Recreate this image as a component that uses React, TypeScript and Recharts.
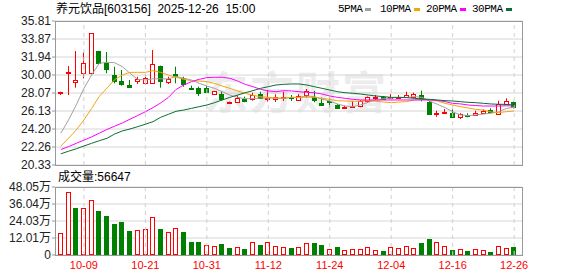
import React from "react";
import { ComposedChart, Bar, Line, XAxis, YAxis, CartesianGrid, ReferenceLine } from "recharts";

const FONT = "'Liberation Sans', Arial, 'Noto Sans CJK SC', sans-serif";
const RED = "#ff0000";
const GREEN = "#008000";

const DATES = [
  "09-26", "09-29", "09-30", "10-09", "10-10", "10-13", "10-14", "10-15", "10-16", "10-17",
  "10-20", "10-21", "10-22", "10-23", "10-24", "10-27", "10-28", "10-29", "10-30", "10-31",
  "11-03", "11-04", "11-05", "11-06", "11-07", "11-10", "11-11", "11-12", "11-13", "11-14",
  "11-17", "11-18", "11-19", "11-20", "11-21", "11-24", "11-25", "11-26", "11-27", "11-28",
  "12-01", "12-02", "12-03", "12-04", "12-05", "12-08", "12-09", "12-10", "12-11", "12-12",
  "12-15", "12-16", "12-17", "12-18", "12-19", "12-22", "12-23", "12-24", "12-25", "12-26",
];

const OPEN = [
  28.2, 30.2, 29.3, 30.19, 30.2, 32.58, 31.33, 30.0, 29.36, 28.93,
  29.36, 29.11, 29.11, 30.97, 29.25, 30.1, 29.65, 28.66, 28.57, 28.57,
  27.96, 28.0, 27.0, 27.1, 27.46, 27.42, 27.96, 27.5, 27.42, 27.5,
  27.6, 27.32, 27.85, 27.68, 27.03, 27.23, 26.82, 26.52, 26.62, 26.67,
  27.18, 27.58, 27.68, 27.5, 27.55, 27.6, 27.68, 27.85, 27.14, 25.84,
  25.89, 25.96, 25.52, 25.67, 25.71, 25.89, 26.2, 25.81, 26.89, 27.1,
];
const HIGH = [
  28.2, 30.97, 32.58, 32.44, 34.49, 32.6, 32.48, 30.9, 30.54, 29.47,
  29.82, 30.0, 32.69, 31.01, 29.82, 30.9, 29.82, 28.86, 28.75, 28.82,
  28.3, 28.29, 27.15, 27.82, 27.68, 28.1, 28.21, 28.39, 27.93, 28.21,
  27.85, 27.96, 28.5, 28.29, 27.57, 27.57, 26.9, 26.7, 27.21, 27.3,
  27.7, 27.85, 27.75, 27.96, 27.85, 28.21, 28.1, 28.32, 27.25, 26.17,
  26.35, 26.31, 25.9, 25.89, 26.17, 26.3, 26.42, 27.24, 27.5, 27.15,
];
const LOW = [
  27.85, 27.85, 28.64, 29.65, 30.1, 31.08, 30.19, 29.1, 28.86, 28.64,
  29.04, 28.93, 29.05, 28.64, 29.04, 29.11, 28.75, 28.39, 27.75, 28.07,
  27.9, 27.24, 26.9, 27.03, 27.07, 27.24, 27.42, 27.14, 27.1, 27.21,
  27.21, 27.21, 27.6, 27.07, 26.67, 26.53, 26.35, 26.4, 26.6, 26.53,
  27.0, 27.32, 27.35, 27.45, 27.45, 27.55, 27.6, 27.18, 25.81, 25.52,
  25.85, 25.45, 25.27, 25.45, 25.65, 25.85, 26.0, 25.71, 26.8, 26.42,
];
const CLOSE = [
  28.2, 30.35, 29.45, 31.26, 34.49, 31.33, 30.68, 29.36, 29.07, 28.75,
  29.61, 29.65, 31.19, 29.39, 29.54, 29.9, 29.0, 28.6, 28.1, 28.21,
  28.25, 27.39, 27.1, 27.57, 27.21, 27.89, 27.5, 27.58, 27.6, 27.62,
  27.5, 27.75, 28.29, 27.32, 26.75, 27.2, 26.46, 26.57, 26.67, 27.18,
  27.6, 27.63, 27.42, 27.64, 27.68, 27.85, 27.96, 27.5, 25.86, 25.9,
  26.03, 25.52, 25.78, 25.55, 25.96, 26.14, 26.05, 26.86, 27.21, 26.6,
];

// volume in 万手
const VOLUME = [
  15.3, 44.7, 33.0, 33.0, 38.6, 31.1, 27.6, 21.9, 23.1, 17.0,
  17.4, 18.2, 26.6, 18.4, 16.0, 18.9, 16.3, 9.2, 9.2, 7.1,
  6.4, 7.8, 4.9, 5.6, 4.2, 9.0, 7.1, 9.0, 6.6, 5.9,
  4.9, 5.6, 8.2, 8.7, 7.1, 4.2, 5.6, 3.3, 4.2, 4.2,
  5.4, 3.3, 2.8, 5.4, 4.9, 6.4, 4.9, 8.7, 11.3, 9.0,
  6.4, 3.5, 4.2, 2.8, 4.0, 3.3, 2.1, 6.4, 4.9, 5.66,
];

const MA5 = [
  23.74, 25.17, 26.78, 28.57, 30.0, 31.26, 31.37, 31.33, 30.9, 30.19,
  29.54, 29.47, 29.6, 29.6, 29.58, 29.85, 29.65, 29.47, 29.11, 28.82,
  28.57, 28.21, 27.85, 27.6, 27.46, 27.46, 27.53, 27.53, 27.52, 27.5,
  27.6, 27.6, 27.75, 27.68, 27.42, 27.21, 26.89, 26.67, 26.6, 26.78,
  27.07, 27.32, 27.46, 27.53, 27.6, 27.6, 27.68, 27.6, 27.21, 26.86,
  26.5, 26.06, 25.71, 25.64, 25.71, 25.81, 25.89, 26.06, 26.42, 26.53,
];
const MA10 = [
  22.37, 23.2, 24.09, 25.17, 26.4, 27.7, 28.6, 29.5, 30.0, 30.29,
  30.29, 30.29, 30.47, 30.29, 30.0, 29.76, 29.54, 29.39, 29.36, 29.29,
  29.11, 28.82, 28.57, 28.29, 28.04, 27.82, 27.68, 27.6, 27.53, 27.53,
  27.6, 27.6, 27.62, 27.6, 27.5, 27.39, 27.24, 27.21, 27.18, 27.18,
  27.24, 27.18, 27.1, 27.03, 27.1, 27.14, 27.32, 27.39, 27.32, 27.21,
  26.96, 26.78, 26.6, 26.46, 26.31, 26.24, 26.03, 25.96, 26.06, 26.14,
];
const MA20 = [
  22.0, 22.3, 22.66, 23.0, 23.35, 23.75, 24.15, 24.5, 24.85, 25.25,
  25.65, 26.05, 26.5, 27.0, 27.6, 28.45, 28.93, 29.29, 29.54, 29.72,
  29.76, 29.76, 29.65, 29.36, 29.0, 28.75, 28.46, 28.29, 28.21, 28.32,
  28.29, 28.21, 28.14, 28.1, 27.96, 27.75, 27.6, 27.5, 27.39, 27.32,
  27.32, 27.32, 27.32, 27.32, 27.32, 27.32, 27.32, 27.32, 27.32, 27.28,
  27.14, 26.96, 26.9, 26.78, 26.72, 26.67, 26.67, 26.67, 26.7, 26.67,
];
const MA30 = [
  21.53, 21.81, 22.07, 22.37, 22.66, 22.94, 23.2, 23.66, 23.99, 24.2,
  24.45, 24.71, 24.99, 25.46, 25.78, 26.1, 26.24, 26.42, 26.6, 26.78,
  27.03, 27.32, 27.6, 27.85, 28.1, 28.32, 28.57, 28.75, 28.93, 29.0,
  29.04, 29.04, 28.93, 28.75, 28.57, 28.39, 28.21, 28.1, 28.04, 27.96,
  27.85, 27.75, 27.68, 27.6, 27.6, 27.57, 27.5, 27.42, 27.39, 27.32,
  27.25, 27.21, 27.14, 27.07, 27.03, 26.96, 26.89, 26.86, 26.84, 26.78,
];

const PRICE_TICKS = [20.33, 22.26, 24.2, 26.13, 28.07, 30.0, 31.94, 33.87, 35.81];
const VOL_TICKS = [0, 12.01, 24.03, 36.04, 48.05];
const DATE_TICKS = ["10-09", "10-21", "10-31", "11-12", "11-24", "12-04", "12-16", "12-26"];

const MA_SERIES = [
  { key: "ma5", name: "5PMA", color: "#a0a0a0", left: 338 },
  { key: "ma10", name: "10PMA", color: "#f2a50c", left: 380 },
  { key: "ma20", name: "20PMA", color: "#ff00ff", left: 426 },
  { key: "ma30", name: "30PMA", color: "#0b6e35", left: 472 },
];

const data = DATES.map((date, i) => ({
  date,
  open: OPEN[i],
  high: HIGH[i],
  low: LOW[i],
  close: CLOSE[i],
  range: [LOW[i], HIGH[i]],
  vol: VOLUME[i],
  volUp: i === 0 ? CLOSE[i] >= OPEN[i] : CLOSE[i] >= CLOSE[i - 1],
  ma5: MA5[i],
  ma10: MA10[i],
  ma20: MA20[i],
  ma30: MA30[i],
}));

function Candle(props: any) {
  const { x, y, width, height, payload } = props;
  if (x == null || y == null) return null;
  const { open, close, high, low } = payload;
  const top = Math.min(y, y + height);
  const h = Math.abs(height);
  const per = high > low ? h / (high - low) : 0;
  const yOf = (v: number) => top + (high - v) * per;
  const bx = Math.round(x + width / 2 - 2.5);
  const cx = bx + 2.5;
  const up = close >= open;
  const bTop = Math.round(yOf(Math.max(open, close)));
  const bBot = Math.max(Math.round(yOf(Math.min(open, close))), bTop + 1);
  if (up) {
    return (
      <g>
        <line x1={cx} x2={cx} y1={top} y2={bTop} stroke={RED} strokeWidth={1} />
        <line x1={cx} x2={cx} y1={bBot} y2={top + h} stroke={RED} strokeWidth={1} />
        <rect x={bx + 0.5} y={bTop + 0.5} width={4} height={bBot - bTop} fill="#fff" stroke={RED} strokeWidth={1} />
      </g>
    );
  }
  return (
    <g>
      <line x1={cx} x2={cx} y1={top} y2={top + h} stroke={GREEN} strokeWidth={1} />
      <rect x={bx} y={bTop} width={5} height={bBot - bTop + 1} fill={GREEN} />
    </g>
  );
}

function VolBar(props: any) {
  const { x, y, width, height, payload } = props;
  if (x == null || y == null) return null;
  const bx = Math.round(x + width / 2 - 2.5);
  const top = Math.round(y);
  const bottom = Math.round(y + height);
  if (payload.volUp) {
    return <rect x={bx + 0.5} y={top + 0.5} width={4} height={Math.max(bottom - top - 1, 1)} fill="#fff" stroke={RED} strokeWidth={1} />;
  }
  return <rect x={bx} y={top} width={5} height={bottom - top} fill={GREEN} />;
}

const axisTick = { fill: "#222", fontSize: 12, fontFamily: FONT };

export default function App() {
  return (
    <div style={{ position: "absolute", left: 0, top: 0, width: 578, height: 276, background: "#fff", overflow: "hidden" }}>
      <div
        style={{
          position: "absolute", left: 204, top: 68, fontSize: 44, lineHeight: "44px", fontWeight: 700,
          fontFamily: "'Noto Sans CJK SC', sans-serif", color: "#ececec", letterSpacing: 2, whiteSpace: "nowrap",
        }}
      >
        东方财富
      </div>

      <div style={{ position: "absolute", left: 0, top: 0 }}>
        <ComposedChart width={578} height={180} data={data} margin={{ top: 21, right: 56, bottom: 15, left: 0 }}>
          <CartesianGrid vertical={false} stroke="#d6d6d6" />
          <XAxis dataKey="date" hide height={0} padding={{ left: 2, right: 4 }} />
          <YAxis
            domain={[20.33, 35.81]}
            ticks={PRICE_TICKS}
            interval={0}
            width={55}
            axisLine={false}
            tickLine={{ stroke: "#999" }}
            tickSize={3}
            tickMargin={1}
            tick={axisTick}
            tickFormatter={(v: number) => v.toFixed(2)}
            allowDataOverflow
          />
          {DATE_TICKS.map((d) => (
            <ReferenceLine key={d} x={d} stroke="#cfcfcf" strokeDasharray="4 4" />
          ))}
          {MA_SERIES.map((s) => (
            <Line key={s.key} type="linear" dataKey={s.key} stroke={s.color} strokeWidth={1} dot={false} isAnimationActive={false} />
          ))}
          <Bar dataKey="range" barSize={5} shape={Candle} isAnimationActive={false} />
        </ComposedChart>
      </div>

      <div style={{ position: "absolute", left: 0, top: 165 }}>
        <ComposedChart width={578} height={111} data={data} margin={{ top: 22, right: 56, bottom: 0, left: 0 }}>
          <CartesianGrid vertical={false} stroke="#d6d6d6" />
          <XAxis
            dataKey="date"
            ticks={DATE_TICKS}
            interval={0}
            height={21}
            padding={{ left: 2, right: 4 }}
            axisLine={false}
            tickLine={false}
            tickSize={4}
            tickMargin={2}
            tick={{ fill: RED, fontSize: 11, fontFamily: FONT }}
          />
          <YAxis
            domain={[0, 48.05]}
            ticks={VOL_TICKS}
            interval={0}
            width={55}
            axisLine={false}
            tickLine={{ stroke: "#999" }}
            tickSize={3}
            tickMargin={1}
            tick={axisTick}
            tickFormatter={(v: number) => (v === 0 ? "0" : v.toFixed(2) + "万")}
            allowDataOverflow
          />
          {DATE_TICKS.map((d) => (
            <ReferenceLine key={d} x={d} stroke="#cfcfcf" strokeDasharray="4 4" />
          ))}
          <Bar dataKey="vol" barSize={5} shape={VolBar} isAnimationActive={false} />
        </ComposedChart>
      </div>

      {/* panel frames */}
      <div style={{ position: "absolute", left: 55, top: 21, width: 468, height: 145, boxSizing: "border-box", border: "1px solid #999", pointerEvents: "none" }} />
      <div style={{ position: "absolute", left: 55, top: 187, width: 468, height: 69, boxSizing: "border-box", border: "1px solid #999", pointerEvents: "none" }} />

      <div
        style={{
          position: "absolute", left: 56, top: 3, fontSize: 12, lineHeight: "12px", fontFamily: FONT,
          color: "#000", whiteSpace: "pre",
        }}
      >
        {"养元饮品[603156]  2025-12-26  15:00"}
      </div>

      {MA_SERIES.map((s) => (
        <div
          key={s.key}
          style={{
            position: "absolute", left: s.left, top: 3, fontSize: 11, lineHeight: "12px",
            fontFamily: "'Liberation Mono', monospace", letterSpacing: -0.5, color: "#000", whiteSpace: "nowrap",
          }}
        >
          {s.name}
          <span style={{ display: "inline-block", width: 6, height: 3, background: s.color, marginLeft: 3, verticalAlign: "middle" }} />
        </div>
      ))}

      <div style={{ position: "absolute", left: 58, top: 171, fontSize: 12, lineHeight: "12px", fontFamily: FONT, color: "#000" }}>
        成交量:56647
      </div>
    </div>
  );
}
